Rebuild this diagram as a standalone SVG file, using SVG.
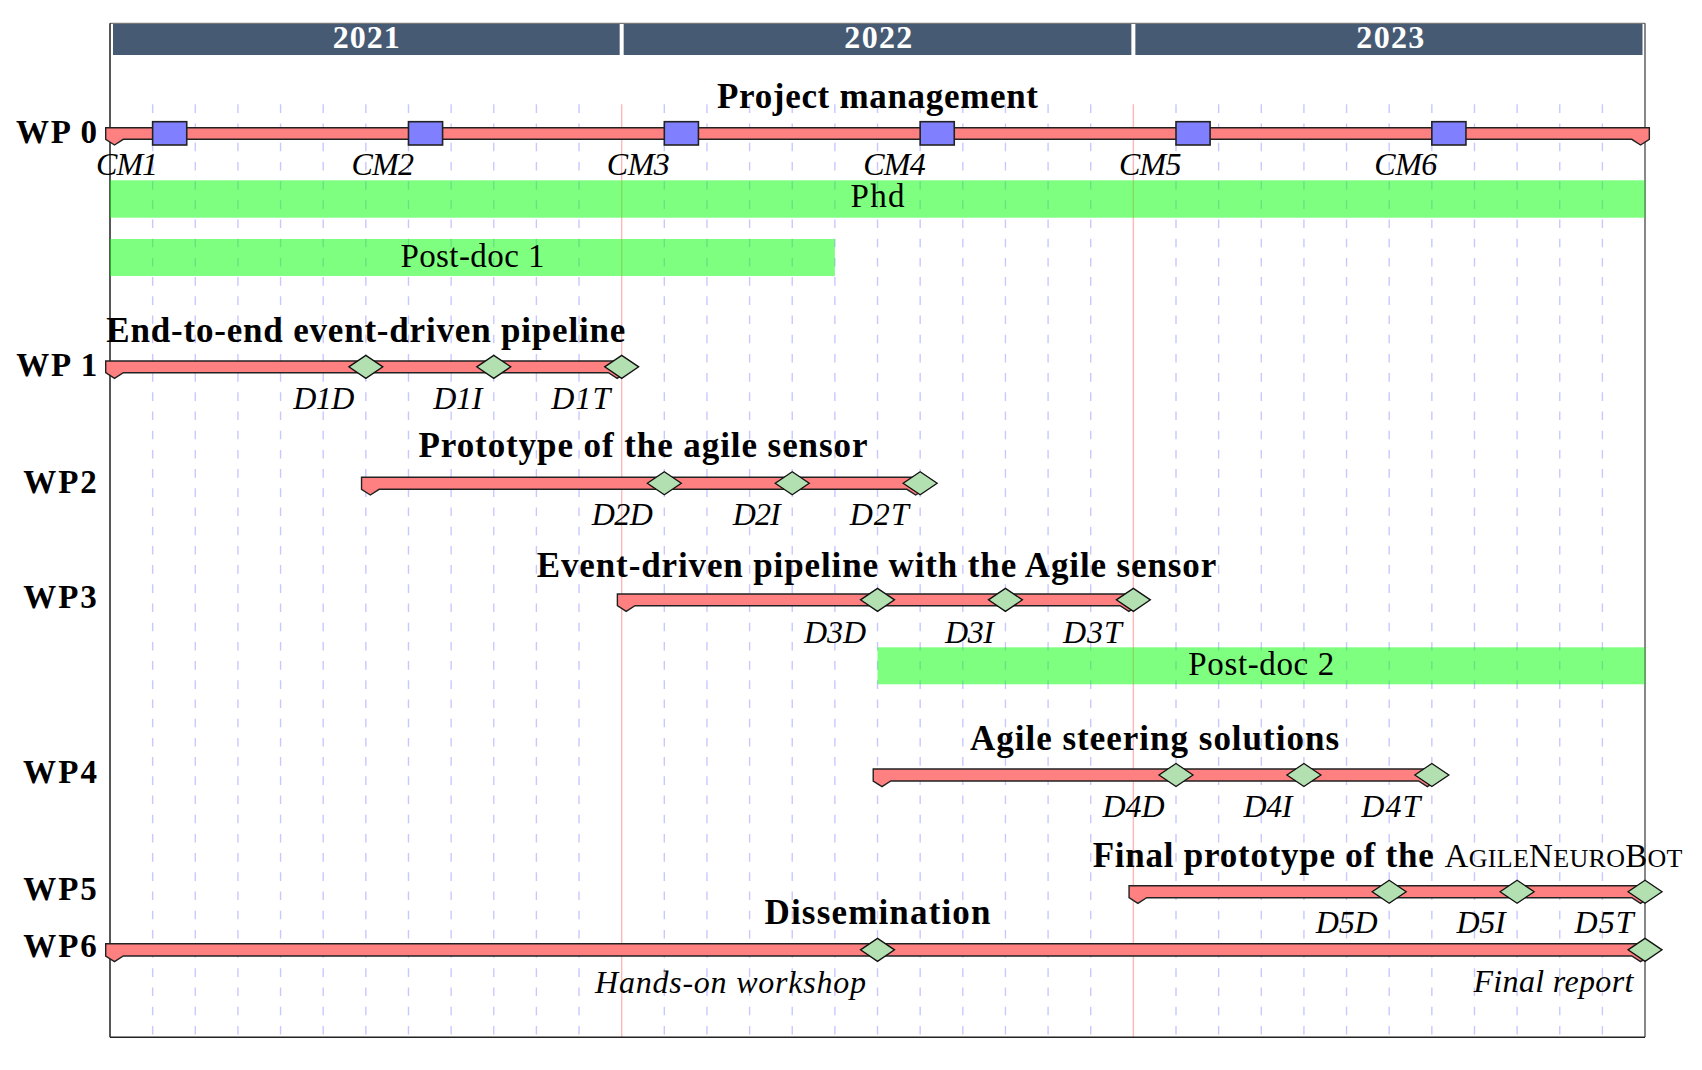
<svg xmlns="http://www.w3.org/2000/svg" xmlns:xlink="http://www.w3.org/1999/xlink" width="1702" height="1070" viewBox="0 0 1702 1070">
  <style>
    text { font-family: "Liberation Serif", "Times New Roman", serif; fill: #000; }
    .year { font-size: 32px; font-weight: bold; fill: #fff; text-anchor: middle; }
    .wp { font-size: 33px; font-weight: bold; text-anchor: end; }
    .title { font-size: 35px; font-weight: bold; text-anchor: middle; }
    .ms { font-size: 32px; font-style: italic; text-anchor: end; }
    .staff { font-size: 33px; text-anchor: middle; }
    .group { fill: #ff8080; stroke: #222; stroke-width: 1.4; stroke-linejoin: miter; }
    .meeting { fill: #8080ff; stroke: #222; stroke-width: 1.6; }
    .diamond { fill: #b3e0b0; stroke: #111; stroke-width: 1.3; }
    .staffbar { fill: #00ff00; fill-opacity: 0.5; }
    .grid { stroke: #c8c8ff; stroke-width: 1.4; stroke-dasharray: 8.6 10.6; fill: none; }
    .yearline { stroke: #ffb8b8; stroke-width: 1.4; fill: none; }
  </style>
  <defs>
    <polygon id="milestone" class="diamond" points="0,-11.5 17,0 0,11.5 -17,0"/>
  </defs>

  <rect width="1702" height="1070" fill="#fff"/>

  <!-- calendar header -->
  <g id="calendar">
    <rect x="113" y="24" width="1529.5" height="31" fill="#475a74"/>
    <line x1="621.68" y1="24" x2="621.68" y2="55" stroke="#fff" stroke-width="4"/>
    <line x1="1133.36" y1="24" x2="1133.36" y2="55" stroke="#fff" stroke-width="4"/>
    <text class="year" x="366.3" y="48.3" textLength="67">2021</text>
    <text class="year" x="878.3" y="48.3" textLength="68">2022</text>
    <text class="year" x="1390.3" y="48.3" textLength="68">2023</text>
  </g>

  <!-- month grid (one line per month boundary) -->
  <g id="grid">
    <path class="grid" d="M152.64,104.3V1037.3 M195.28,104.3V1037.3 M237.92,104.3V1037.3 M280.56,104.3V1037.3 M323.2,104.3V1037.3 M365.84,104.3V1037.3 M408.48,104.3V1037.3 M451.12,104.3V1037.3 M493.76,104.3V1037.3 M536.4,104.3V1037.3 M579.04,104.3V1037.3 M664.32,104.3V1037.3 M706.96,104.3V1037.3 M749.6,104.3V1037.3 M792.24,104.3V1037.3 M834.88,104.3V1037.3 M877.52,104.3V1037.3 M920.16,104.3V1037.3 M962.8,104.3V1037.3 M1005.44,104.3V1037.3 M1048.08,104.3V1037.3 M1090.72,104.3V1037.3 M1176,104.3V1037.3 M1218.64,104.3V1037.3 M1261.28,104.3V1037.3 M1303.92,104.3V1037.3 M1346.56,104.3V1037.3 M1389.2,104.3V1037.3 M1431.84,104.3V1037.3 M1474.48,104.3V1037.3 M1517.12,104.3V1037.3 M1559.76,104.3V1037.3 M1602.4,104.3V1037.3"/>
    <path class="yearline" d="M621.68,104.3V1037.3 M1133.36,104.3V1037.3"/>
  </g>

  <!-- chart frame -->
  <g id="frame" fill="none">
    <line x1="110" y1="23.3" x2="1645" y2="23.3" stroke="#777" stroke-width="1.2"/>
    <line x1="110" y1="23.3" x2="110" y2="1037.3" stroke="#111" stroke-width="1.4"/>
    <line x1="1645" y1="23.3" x2="1645" y2="1037.3" stroke="#555" stroke-width="1.4"/>
    <line x1="110" y1="1037.3" x2="1645" y2="1037.3" stroke="#222" stroke-width="1.4"/>
  </g>

  <!-- staffing bars -->
  <g id="phd">
    <rect class="staffbar" x="110" y="180.3" width="1535" height="37.4"/>
    <text class="staff" x="877.5" y="206.7" textLength="54">Phd</text>
  </g>
  <g id="postdoc1">
    <rect class="staffbar" x="110" y="239" width="724.88" height="37"/>
    <text class="staff" x="472.4" y="266.7" textLength="144">Post-doc 1</text>
  </g>
  <g id="postdoc2">
    <rect class="staffbar" x="877.52" y="647.3" width="767.5" height="37"/>
    <text class="staff" x="1261.3" y="675" textLength="146">Post-doc 2</text>
  </g>

  <!-- WP 0: project management with consortium meetings -->
  <g id="wp0">
    <text class="wp" x="97" y="142.7" textLength="81">WP 0</text>
    <text class="title" x="877.5" y="108.3" textLength="321">Project management</text>
    <path class="group" d="M105.7,127.7 H1649.34 V139.3 L1640.54,145 L1631.74,139.3 H123.3 L114.5,145 L105.7,139.3 Z"/>
    <rect class="meeting" x="152.64" y="121.7" width="34.1" height="23.3"/>
    <rect class="meeting" x="408.48" y="121.7" width="34.1" height="23.3"/>
    <rect class="meeting" x="664.32" y="121.7" width="34.1" height="23.3"/>
    <rect class="meeting" x="920.16" y="121.7" width="34.1" height="23.3"/>
    <rect class="meeting" x="1176" y="121.7" width="34.1" height="23.3"/>
    <rect class="meeting" x="1431.84" y="121.7" width="34.1" height="23.3"/>
    <text class="ms" x="158.1" y="175" textLength="62">CM1</text>
    <text class="ms" x="414" y="175" textLength="62.5">CM2</text>
    <text class="ms" x="669.8" y="175" textLength="63">CM3</text>
    <text class="ms" x="925.7" y="175" textLength="62.5">CM4</text>
    <text class="ms" x="1181.5" y="175" textLength="62.5">CM5</text>
    <text class="ms" x="1437.3" y="175" textLength="63">CM6</text>
  </g>

  <!-- WP 1 -->
  <g id="wp1">
    <text class="wp" x="97.3" y="376" textLength="81">WP 1</text>
    <text class="title" x="365.8" y="341.7" textLength="519">End-to-end event-driven pipeline</text>
    <path class="group" d="M105.7,361 H625.98 V372.7 L617.18,378.4 L608.38,372.7 H123.3 L114.5,378.4 L105.7,372.7 Z"/>
    <use xlink:href="#milestone" x="365.84" y="366.85"/>
    <use xlink:href="#milestone" x="493.76" y="366.85"/>
    <use xlink:href="#milestone" x="621.68" y="366.85"/>
    <text class="ms" x="354.3" y="409.3" textLength="61">D1D</text>
    <text class="ms" x="482.3" y="409.3" textLength="49">D1I</text>
    <text class="ms" x="610.2" y="409.3" textLength="59">D1T</text>
  </g>

  <!-- WP 2 -->
  <g id="wp2">
    <text class="wp" x="96.7" y="492.7" textLength="73.4">WP2</text>
    <text class="title" x="643" y="456.7" textLength="449">Prototype of the agile sensor</text>
    <path class="group" d="M361.54,477.3 H924.46 V489.3 L915.66,495 L906.86,489.3 H379.14 L370.34,495 L361.54,489.3 Z"/>
    <use xlink:href="#milestone" x="664.32" y="483.3"/>
    <use xlink:href="#milestone" x="792.24" y="483.3"/>
    <use xlink:href="#milestone" x="920.16" y="483.3"/>
    <text class="ms" x="652.8" y="525" textLength="61">D2D</text>
    <text class="ms" x="780.7" y="525" textLength="48">D2I</text>
    <text class="ms" x="908.7" y="525" textLength="59">D2T</text>
  </g>

  <!-- WP 3 -->
  <g id="wp3">
    <text class="wp" x="96.7" y="608.3" textLength="73.4">WP3</text>
    <text class="title" x="876.5" y="576.7" textLength="679.5">Event-driven pipeline with the Agile sensor</text>
    <path class="group" d="M617.38,594 H1137.66 V605.7 L1128.86,611.4 L1120.06,605.7 H634.98 L626.18,611.4 L617.38,605.7 Z"/>
    <use xlink:href="#milestone" x="877.52" y="599.85"/>
    <use xlink:href="#milestone" x="1005.44" y="599.85"/>
    <use xlink:href="#milestone" x="1133.36" y="599.85"/>
    <text class="ms" x="866" y="642.7" textLength="62">D3D</text>
    <text class="ms" x="993.9" y="642.7" textLength="49">D3I</text>
    <text class="ms" x="1121.9" y="642.7" textLength="59">D3T</text>
  </g>

  <!-- WP 4 -->
  <g id="wp4">
    <text class="wp" x="97" y="783.3" textLength="74">WP4</text>
    <text class="title" x="1154.5" y="750" textLength="369">Agile steering solutions</text>
    <path class="group" d="M873.22,769 H1436.14 V781 L1427.34,786.7 L1418.54,781 H890.82 L882.02,786.7 L873.22,781 Z"/>
    <use xlink:href="#milestone" x="1176" y="775"/>
    <use xlink:href="#milestone" x="1303.92" y="775"/>
    <use xlink:href="#milestone" x="1431.84" y="775"/>
    <text class="ms" x="1164.5" y="816.7" textLength="62">D4D</text>
    <text class="ms" x="1292.4" y="816.7" textLength="49">D4I</text>
    <text class="ms" x="1420.3" y="816.7" textLength="59">D4T</text>
  </g>

  <!-- WP 5 -->
  <g id="wp5">
    <text class="wp" x="96.7" y="900" textLength="73.4">WP5</text>
    <text x="1092.7" y="866.7" font-size="35" font-weight="bold" textLength="341">Final prototype of the</text>
    <text x="1444.5" y="866.7" font-size="33" textLength="238">A<tspan font-size="26">GILE</tspan>N<tspan font-size="26">EURO</tspan>B<tspan font-size="26">OT</tspan></text>
    <path class="group" d="M1129.06,885.7 H1649.34 V897.7 L1640.54,903.4 L1631.74,897.7 H1146.66 L1137.86,903.4 L1129.06,897.7 Z"/>
    <use xlink:href="#milestone" x="1389.2" y="891.7"/>
    <use xlink:href="#milestone" x="1517.12" y="891.7"/>
    <use xlink:href="#milestone" x="1645.04" y="891.7"/>
    <text class="ms" x="1377.7" y="933.3" textLength="62">D5D</text>
    <text class="ms" x="1505.6" y="933.3" textLength="49">D5I</text>
    <text class="ms" x="1633.5" y="933.3" textLength="59">D5T</text>
  </g>

  <!-- WP 6 -->
  <g id="wp6">
    <text class="wp" x="96.7" y="956.7" textLength="73.4">WP6</text>
    <text class="title" x="877.5" y="924" textLength="226">Dissemination</text>
    <path class="group" d="M105.7,943.7 H1649.34 V956 L1640.54,961.7 L1631.74,956 H123.3 L114.5,961.7 L105.7,956 Z"/>
    <use xlink:href="#milestone" x="877.52" y="949.85"/>
    <use xlink:href="#milestone" x="1645.04" y="949.85"/>
    <text class="ms" x="866" y="992.7" textLength="271">Hands-on workshop</text>
    <text class="ms" x="1633.4" y="992" textLength="160">Final report</text>
  </g>
</svg>
